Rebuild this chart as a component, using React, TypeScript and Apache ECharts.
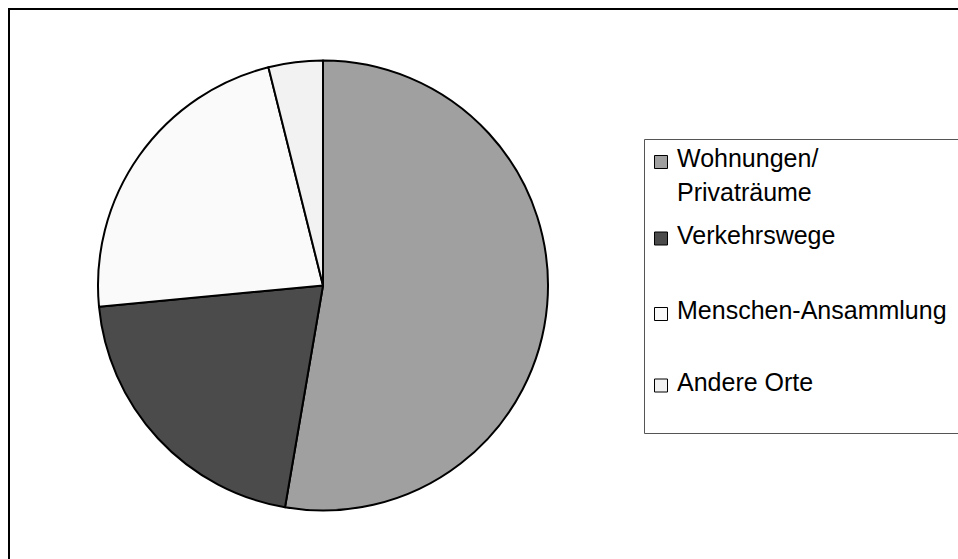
import React, { useEffect, useRef } from "react";
import * as echarts from "echarts";

const categories = ["Wohnungen/\nPrivaträume", "Verkehrswege", "Menschen-Ansammlung", "Andere Orte"];
const values = [52.7, 20.8, 22.6, 3.9];
const colors = ["#a0a0a0", "#4b4b4b", "#fafafa", "#f2f2f2"];
const legendRowY = [158, 234.5, 310, 381.5];

export default function App() {
  const ref = useRef<HTMLDivElement>(null);
  useEffect(() => {
    if (!ref.current) return;
    const chart = echarts.init(ref.current, undefined, { renderer: "svg" });
    const font = "'Liberation Sans', Arial, sans-serif";
    const legendEls: any[] = [];
    categories.forEach((c, i) => {
      const y = legendRowY[i];
      legendEls.push({
        type: "rect",
        shape: { x: 654.5, y: y - 2.5, width: 13, height: 13 },
        style: { fill: colors[i], stroke: "#000", lineWidth: 1 },
      });
      const lines = c.split("\n");
      lines.forEach((ln, j) => {
        legendEls.push({
          type: "text",
          x: 677,
          y: y + j * 33.5,
          style: {
            text: ln,
            font: `25px ${font}`,
            fill: "#000",
            textVerticalAlign: "middle",
            verticalAlign: "middle",
            textAlign: "left",
          },
        });
      });
    });
    chart.setOption({
      animation: false,
      backgroundColor: "#fff",
      graphic: [
        {
          type: "rect",
          shape: { x: 9, y: 9, width: 2000, height: 2000 },
          style: { fill: "none", stroke: "#000", lineWidth: 2 },
          silent: true,
        },
        {
          type: "rect",
          shape: { x: 644.5, y: 139.5, width: 1000, height: 294 },
          style: { fill: "none", stroke: "#555", lineWidth: 1 },
          silent: true,
        },
        ...legendEls,
      ],
      series: [
        {
          type: "pie",
          center: [323, 285.5],
          radius: 225,
          startAngle: 90,
          clockwise: true,
          label: { show: false },
          labelLine: { show: false },
          emphasis: { disabled: true },
          itemStyle: { borderColor: "#000", borderWidth: 2 },
          data: categories.map((c, i) => ({
            name: c,
            value: values[i],
            itemStyle: { color: colors[i] },
          })),
        },
      ],
    });
    return () => chart.dispose();
  }, []);
  return (
    <div
      ref={ref}
      style={{ position: "fixed", left: 0, top: 0, width: 958, height: 559 }}
    />
  );
}
